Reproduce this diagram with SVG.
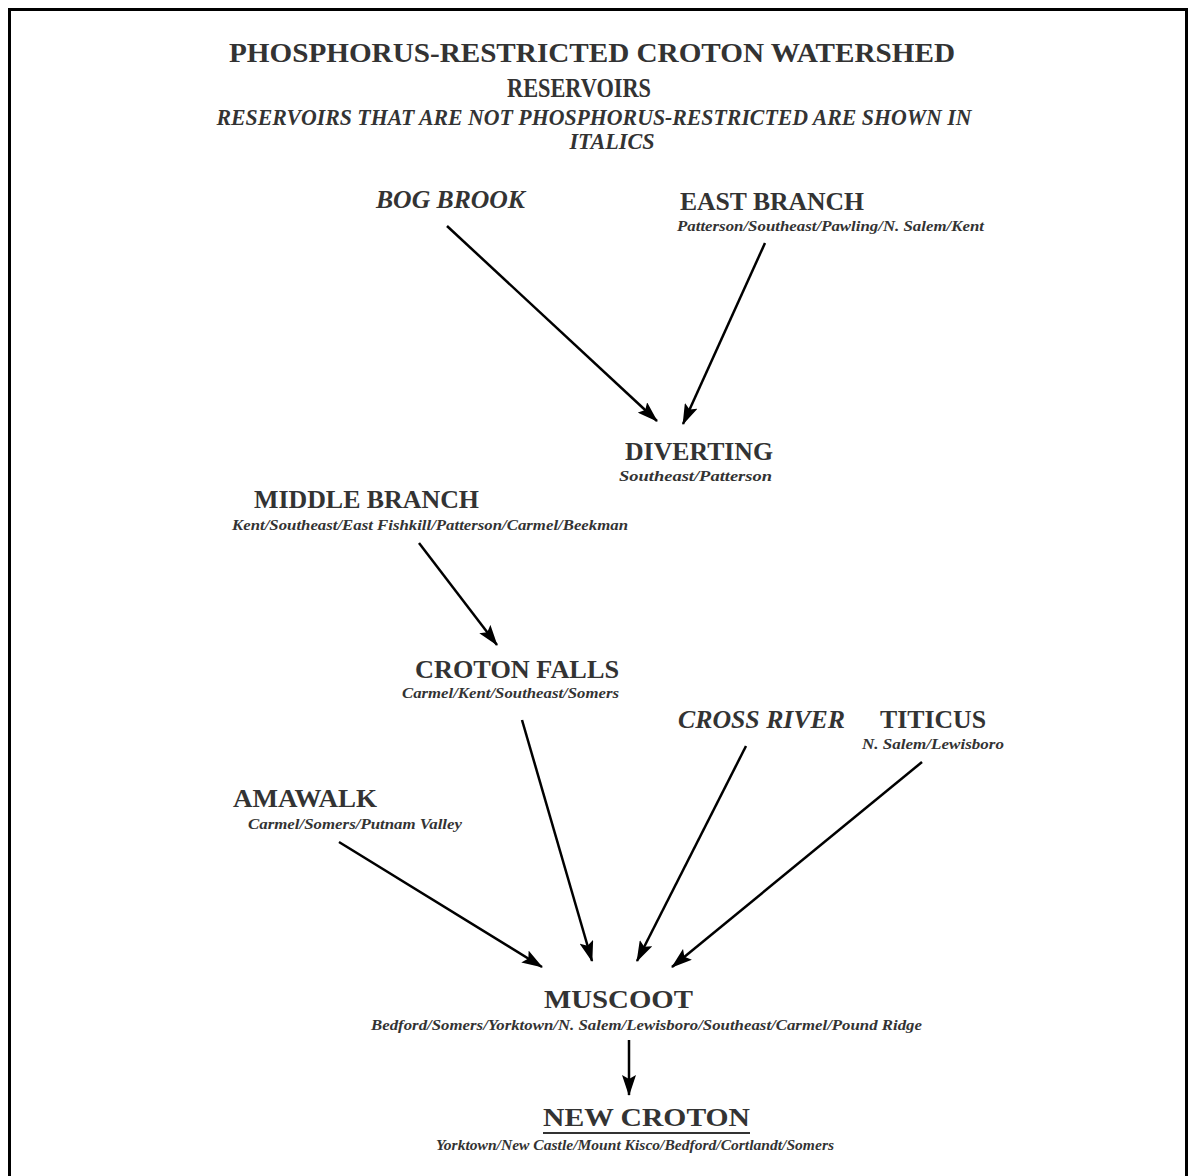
<svg xmlns="http://www.w3.org/2000/svg" width="1191" height="1176" viewBox="0 0 1191 1176">
<defs>
<style>
.t{font-family:"Liberation Serif","Times New Roman",serif;font-weight:bold;fill:#333;}
.h{font-size:28px;}
.hi{font-size:23px;font-style:italic;}
.n{font-size:26px;}
.ni{font-size:26px;font-style:italic;}
.s{font-size:14px;font-style:italic;}
.c{stroke:#000;stroke-width:2.5;fill:none;marker-end:url(#ah);}
</style>
<marker id="ah" markerUnits="userSpaceOnUse" markerWidth="24" markerHeight="14" refX="20" refY="7" orient="auto" viewBox="0 0 24 14">
<path d="M0,0 L21,7 L0,14 L4,7 z" fill="#000"/>
</marker>
</defs>
<rect x="0" y="0" width="1191" height="1176" fill="#fff"/>
<path d="M9.5,1176 L9.5,9.5 L1186.5,9.5 L1186.5,1176" fill="none" stroke="#000" stroke-width="3"/>
<g id="title">
<text class="t h" x="592" y="62" text-anchor="middle" textLength="726" lengthAdjust="spacingAndGlyphs">PHOSPHORUS-RESTRICTED CROTON WATERSHED</text>
<text class="t h" x="579" y="97" text-anchor="middle" textLength="144" lengthAdjust="spacingAndGlyphs">RESERVOIRS</text>
<text class="t hi" x="594" y="125" text-anchor="middle" textLength="755" lengthAdjust="spacingAndGlyphs">RESERVOIRS THAT ARE NOT PHOSPHORUS-RESTRICTED ARE SHOWN IN</text>
<text class="t hi" x="612" y="149" text-anchor="middle" textLength="85" lengthAdjust="spacingAndGlyphs">ITALICS</text>
</g>
<g id="connectors">
<line class="c" x1="447" y1="226" x2="657" y2="421"/>
<line class="c" x1="765" y1="243" x2="683" y2="424"/>
<line class="c" x1="419" y1="543" x2="497" y2="645"/>
<line class="c" x1="522" y1="720" x2="592" y2="961"/>
<line class="c" x1="746" y1="746" x2="637" y2="961"/>
<line class="c" x1="922" y1="762" x2="672" y2="967"/>
<line class="c" x1="339" y1="842" x2="542" y2="967"/>
<line class="c" x1="629" y1="1040" x2="629" y2="1095"/>
</g>
<g id="bog-brook">
<text class="t ni" x="376" y="208" textLength="149" lengthAdjust="spacingAndGlyphs">BOG BROOK</text>
</g>
<g id="east-branch">
<text class="t n" x="680" y="210" textLength="184" lengthAdjust="spacingAndGlyphs">EAST BRANCH</text>
<text class="t s" x="677" y="231" textLength="307" lengthAdjust="spacingAndGlyphs">Patterson/Southeast/Pawling/N. Salem/Kent</text>
</g>
<g id="diverting">
<text class="t n" x="625" y="460" textLength="148" lengthAdjust="spacingAndGlyphs">DIVERTING</text>
<text class="t s" x="619" y="481" textLength="153" lengthAdjust="spacingAndGlyphs">Southeast/Patterson</text>
</g>
<g id="middle-branch">
<text class="t n" x="254" y="508" textLength="225" lengthAdjust="spacingAndGlyphs">MIDDLE BRANCH</text>
<text class="t s" x="232" y="530" textLength="396" lengthAdjust="spacingAndGlyphs">Kent/Southeast/East Fishkill/Patterson/Carmel/Beekman</text>
</g>
<g id="croton-falls">
<text class="t n" x="415" y="678" textLength="204" lengthAdjust="spacingAndGlyphs">CROTON FALLS</text>
<text class="t s" x="402" y="698" textLength="217" lengthAdjust="spacingAndGlyphs">Carmel/Kent/Southeast/Somers</text>
</g>
<g id="cross-river">
<text class="t ni" x="678" y="728" textLength="167" lengthAdjust="spacingAndGlyphs">CROSS RIVER</text>
</g>
<g id="titicus">
<text class="t n" x="880" y="728" textLength="106" lengthAdjust="spacingAndGlyphs">TITICUS</text>
<text class="t s" x="862" y="749" textLength="142" lengthAdjust="spacingAndGlyphs">N. Salem/Lewisboro</text>
</g>
<g id="amawalk">
<text class="t n" x="233" y="807" textLength="144" lengthAdjust="spacingAndGlyphs">AMAWALK</text>
<text class="t s" x="248" y="829" textLength="214" lengthAdjust="spacingAndGlyphs">Carmel/Somers/Putnam Valley</text>
</g>
<g id="muscoot">
<text class="t n" x="544" y="1008" textLength="149" lengthAdjust="spacingAndGlyphs">MUSCOOT</text>
<text class="t s" x="371" y="1030" textLength="551" lengthAdjust="spacingAndGlyphs">Bedford/Somers/Yorktown/N. Salem/Lewisboro/Southeast/Carmel/Pound Ridge</text>
</g>
<g id="new-croton">
<text class="t n" x="543" y="1126" textLength="207" lengthAdjust="spacingAndGlyphs">NEW CROTON</text>
<line x1="543" y1="1133" x2="750" y2="1133" stroke="#333" stroke-width="2"/>
<text class="t s" x="436" y="1150" textLength="398" lengthAdjust="spacingAndGlyphs">Yorktown/New Castle/Mount Kisco/Bedford/Cortlandt/Somers</text>
</g>
</svg>
